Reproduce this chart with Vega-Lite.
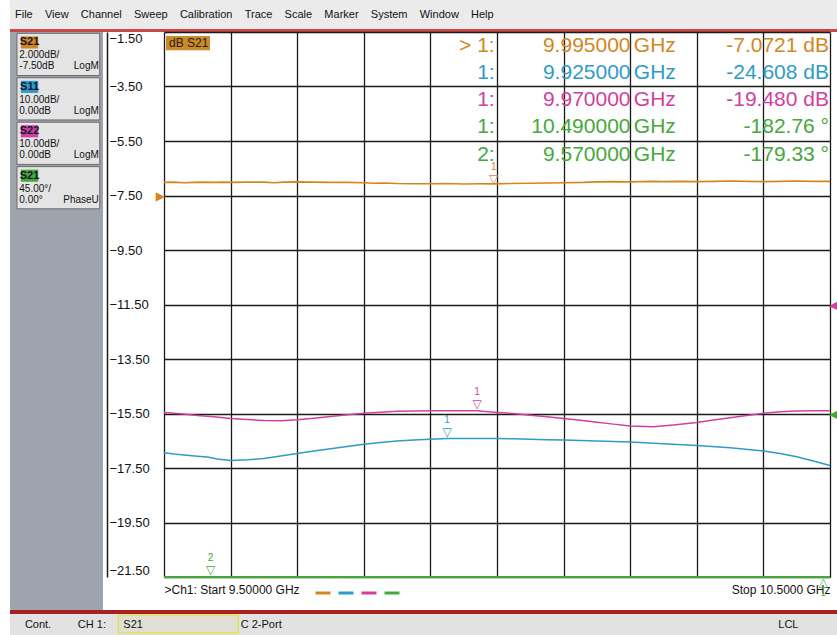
{
  "$schema": "https://vega.github.io/schema/vega-lite/v6.json",
  "background": "white",
  "padding": {"left": 10, "top": 0, "right": 0, "bottom": 0},
  "spacing": 0,
  "config": {
    "view": {"stroke": null},
    "concat": {"spacing": 0},
    "font": "Liberation Sans",
    "axis": {"domain": false, "ticks": false, "gridColor": "#1a1a1a", "gridWidth": 1.3, "gridOpacity": 1, "labelFont": "Liberation Sans", "labelFontSize": 13, "labelColor": "#111111"}
  },
  "datasets": {
    "s21": [
      {"trace": "S21 LogM", "freq": 9.5, "value": -7.02}, {"trace": "S21 LogM", "freq": 9.515, "value": -7.01}, {"trace": "S21 LogM", "freq": 9.53, "value": -7.03}, {"trace": "S21 LogM", "freq": 9.545, "value": -7.02}, {"trace": "S21 LogM", "freq": 9.56, "value": -7.01}, {"trace": "S21 LogM", "freq": 9.575, "value": -7.02}, {"trace": "S21 LogM", "freq": 9.59, "value": -7.01}, {"trace": "S21 LogM", "freq": 9.6, "value": -7.02}, {"trace": "S21 LogM", "freq": 9.625, "value": -7.01}, {"trace": "S21 LogM", "freq": 9.65, "value": -7.01}, {"trace": "S21 LogM", "freq": 9.665, "value": -7.03}, {"trace": "S21 LogM", "freq": 9.68, "value": -7.01}, {"trace": "S21 LogM", "freq": 9.7, "value": -7.0}, {"trace": "S21 LogM", "freq": 9.725, "value": -7.01}, {"trace": "S21 LogM", "freq": 9.75, "value": -7.02}, {"trace": "S21 LogM", "freq": 9.775, "value": -7.02}, {"trace": "S21 LogM", "freq": 9.8, "value": -7.03}, {"trace": "S21 LogM", "freq": 9.815, "value": -7.05}, {"trace": "S21 LogM", "freq": 9.83, "value": -7.04}, {"trace": "S21 LogM", "freq": 9.85, "value": -7.06}, {"trace": "S21 LogM", "freq": 9.875, "value": -7.07}, {"trace": "S21 LogM", "freq": 9.9, "value": -7.07}, {"trace": "S21 LogM", "freq": 9.925, "value": -7.06}, {"trace": "S21 LogM", "freq": 9.95, "value": -7.08}, {"trace": "S21 LogM", "freq": 9.975, "value": -7.07}, {"trace": "S21 LogM", "freq": 9.995, "value": -7.072}, {"trace": "S21 LogM", "freq": 10.02, "value": -7.06}, {"trace": "S21 LogM", "freq": 10.05, "value": -7.05}, {"trace": "S21 LogM", "freq": 10.075, "value": -7.04}, {"trace": "S21 LogM", "freq": 10.1, "value": -7.03}, {"trace": "S21 LogM", "freq": 10.13, "value": -7.02}, {"trace": "S21 LogM", "freq": 10.15, "value": -7.0}, {"trace": "S21 LogM", "freq": 10.175, "value": -6.99}, {"trace": "S21 LogM", "freq": 10.2, "value": -7.0}, {"trace": "S21 LogM", "freq": 10.23, "value": -6.98}, {"trace": "S21 LogM", "freq": 10.25, "value": -6.99}, {"trace": "S21 LogM", "freq": 10.275, "value": -6.98}, {"trace": "S21 LogM", "freq": 10.3, "value": -6.99}, {"trace": "S21 LogM", "freq": 10.325, "value": -6.98}, {"trace": "S21 LogM", "freq": 10.35, "value": -6.97}, {"trace": "S21 LogM", "freq": 10.375, "value": -6.98}, {"trace": "S21 LogM", "freq": 10.4, "value": -6.99}, {"trace": "S21 LogM", "freq": 10.425, "value": -6.98}, {"trace": "S21 LogM", "freq": 10.45, "value": -6.97}, {"trace": "S21 LogM", "freq": 10.475, "value": -6.98}, {"trace": "S21 LogM", "freq": 10.5, "value": -6.98}
    ],
    "s11": [
      {"trace": "S11", "freq": 9.5, "value": -27.2}, {"trace": "S11", "freq": 9.515, "value": -27.45}, {"trace": "S11", "freq": 9.53, "value": -27.6}, {"trace": "S11", "freq": 9.55, "value": -27.85}, {"trace": "S11", "freq": 9.565, "value": -28.0}, {"trace": "S11", "freq": 9.58, "value": -28.35}, {"trace": "S11", "freq": 9.6, "value": -28.63}, {"trace": "S11", "freq": 9.625, "value": -28.5}, {"trace": "S11", "freq": 9.65, "value": -28.26}, {"trace": "S11", "freq": 9.675, "value": -27.8}, {"trace": "S11", "freq": 9.7, "value": -27.33}, {"trace": "S11", "freq": 9.725, "value": -26.9}, {"trace": "S11", "freq": 9.75, "value": -26.47}, {"trace": "S11", "freq": 9.775, "value": -26.05}, {"trace": "S11", "freq": 9.8, "value": -25.66}, {"trace": "S11", "freq": 9.825, "value": -25.3}, {"trace": "S11", "freq": 9.85, "value": -25.05}, {"trace": "S11", "freq": 9.875, "value": -24.85}, {"trace": "S11", "freq": 9.9, "value": -24.74}, {"trace": "S11", "freq": 9.925, "value": -24.608}, {"trace": "S11", "freq": 9.95, "value": -24.6}, {"trace": "S11", "freq": 9.975, "value": -24.6}, {"trace": "S11", "freq": 10.0, "value": -24.6}, {"trace": "S11", "freq": 10.025, "value": -24.65}, {"trace": "S11", "freq": 10.05, "value": -24.74}, {"trace": "S11", "freq": 10.075, "value": -24.8}, {"trace": "S11", "freq": 10.1, "value": -24.86}, {"trace": "S11", "freq": 10.125, "value": -24.95}, {"trace": "S11", "freq": 10.15, "value": -25.05}, {"trace": "S11", "freq": 10.175, "value": -25.15}, {"trace": "S11", "freq": 10.2, "value": -25.23}, {"trace": "S11", "freq": 10.25, "value": -25.54}, {"trace": "S11", "freq": 10.3, "value": -25.85}, {"trace": "S11", "freq": 10.35, "value": -26.28}, {"trace": "S11", "freq": 10.4, "value": -26.9}, {"trace": "S11", "freq": 10.425, "value": -27.35}, {"trace": "S11", "freq": 10.45, "value": -27.95}, {"trace": "S11", "freq": 10.475, "value": -28.7}, {"trace": "S11", "freq": 10.5, "value": -29.55}
    ],
    "s22": [
      {"trace": "S22", "freq": 9.5, "value": -19.8}, {"trace": "S22", "freq": 9.525, "value": -20.05}, {"trace": "S22", "freq": 9.55, "value": -20.35}, {"trace": "S22", "freq": 9.575, "value": -20.6}, {"trace": "S22", "freq": 9.6, "value": -20.9}, {"trace": "S22", "freq": 9.625, "value": -21.1}, {"trace": "S22", "freq": 9.65, "value": -21.3}, {"trace": "S22", "freq": 9.675, "value": -21.35}, {"trace": "S22", "freq": 9.7, "value": -21.15}, {"trace": "S22", "freq": 9.725, "value": -20.85}, {"trace": "S22", "freq": 9.75, "value": -20.55}, {"trace": "S22", "freq": 9.775, "value": -20.25}, {"trace": "S22", "freq": 9.8, "value": -19.95}, {"trace": "S22", "freq": 9.825, "value": -19.75}, {"trace": "S22", "freq": 9.85, "value": -19.6}, {"trace": "S22", "freq": 9.875, "value": -19.55}, {"trace": "S22", "freq": 9.9, "value": -19.5}, {"trace": "S22", "freq": 9.94, "value": -19.48}, {"trace": "S22", "freq": 9.97, "value": -19.48}, {"trace": "S22", "freq": 10.0, "value": -19.8}, {"trace": "S22", "freq": 10.025, "value": -20.0}, {"trace": "S22", "freq": 10.05, "value": -20.3}, {"trace": "S22", "freq": 10.075, "value": -20.6}, {"trace": "S22", "freq": 10.1, "value": -20.9}, {"trace": "S22", "freq": 10.125, "value": -21.25}, {"trace": "S22", "freq": 10.15, "value": -21.6}, {"trace": "S22", "freq": 10.175, "value": -21.95}, {"trace": "S22", "freq": 10.2, "value": -22.3}, {"trace": "S22", "freq": 10.235, "value": -22.45}, {"trace": "S22", "freq": 10.265, "value": -22.1}, {"trace": "S22", "freq": 10.3, "value": -21.65}, {"trace": "S22", "freq": 10.325, "value": -21.2}, {"trace": "S22", "freq": 10.35, "value": -20.8}, {"trace": "S22", "freq": 10.375, "value": -20.35}, {"trace": "S22", "freq": 10.4, "value": -19.95}, {"trace": "S22", "freq": 10.425, "value": -19.7}, {"trace": "S22", "freq": 10.45, "value": -19.55}, {"trace": "S22", "freq": 10.475, "value": -19.5}, {"trace": "S22", "freq": 10.5, "value": -19.5}
    ],
    "phase": [
      {"trace": "S21 Phase", "freq": 9.5, "value": -178.6}, {"trace": "S21 Phase", "freq": 9.55, "value": -179.1}, {"trace": "S21 Phase", "freq": 9.57, "value": -179.33}, {"trace": "S21 Phase", "freq": 9.6, "value": -179.6}, {"trace": "S21 Phase", "freq": 9.7, "value": -180.2}, {"trace": "S21 Phase", "freq": 9.8, "value": -180.7}, {"trace": "S21 Phase", "freq": 9.9, "value": -181.1}, {"trace": "S21 Phase", "freq": 10.0, "value": -181.5}, {"trace": "S21 Phase", "freq": 10.1, "value": -181.8}, {"trace": "S21 Phase", "freq": 10.2, "value": -182.0}, {"trace": "S21 Phase", "freq": 10.3, "value": -182.3}, {"trace": "S21 Phase", "freq": 10.4, "value": -182.5}, {"trace": "S21 Phase", "freq": 10.49, "value": -182.76}, {"trace": "S21 Phase", "freq": 10.5, "value": -182.8}
    ],
    "markers": [
      {"trace": "S21 LogM", "marker": "1", "freq": 9.995, "value": -7.0721},
      {"trace": "S11", "marker": "1", "freq": 9.925, "value": -24.608},
      {"trace": "S22", "marker": "1", "freq": 9.97, "value": -19.48},
      {"trace": "S21 Phase", "marker": "1", "freq": 10.49, "value": -182.76},
      {"trace": "S21 Phase", "marker": "2", "freq": 9.57, "value": -179.33}
    ],
    "refs": [
      {"trace": "S21 LogM", "freq": 9.5, "value": -7.5},
      {"trace": "S22", "freq": 10.5, "value": 0},
      {"trace": "S21 Phase", "freq": 10.5, "value": 0}
    ],
    "readout": [
      {"row": "r1", "trace": "S21 LogM", "label": "> 1:", "freq": 9.995, "reading": "-7.0721 dB"},
      {"row": "r2", "trace": "S11", "label": "1:", "freq": 9.925, "reading": "-24.608 dB"},
      {"row": "r3", "trace": "S22", "label": "1:", "freq": 9.97, "reading": "-19.480 dB"},
      {"row": "r4", "trace": "S21 Phase", "label": "1:", "freq": 10.49, "reading": "-182.76 °"},
      {"row": "r5", "trace": "S21 Phase", "label": "2:", "freq": 9.57, "reading": "-179.33 °"}
    ],
    "panel": [
      {"slot": "b1", "trace": "S21 LogM", "name": "S21", "perdiv": "2.000dB/", "refval": "-7.50dB", "format": "LogM"},
      {"slot": "b2", "trace": "S11", "name": "S11", "perdiv": "10.00dB/", "refval": "0.00dB", "format": "LogM"},
      {"slot": "b3", "trace": "S22", "name": "S22", "perdiv": "10.00dB/", "refval": "0.00dB", "format": "LogM"},
      {"slot": "b4", "trace": "S21 Phase", "name": "S21", "perdiv": "45.00°/", "refval": "0.00°", "format": "PhaseU"}
    ]
  },
  "vconcat": [
    {
      "width": 827, "height": 29,
      "view": {"fill": "#ebebeb", "stroke": null},
      "data": {"values": [{"menu": "File\u00a0\u00a0\u00a0\u00a0View\u00a0\u00a0\u00a0\u00a0Channel\u00a0\u00a0\u00a0\u00a0Sweep\u00a0\u00a0\u00a0\u00a0Calibration\u00a0\u00a0\u00a0\u00a0Trace\u00a0\u00a0\u00a0\u00a0Scale\u00a0\u00a0\u00a0\u00a0Marker\u00a0\u00a0\u00a0\u00a0System\u00a0\u00a0\u00a0\u00a0Window\u00a0\u00a0\u00a0\u00a0Help"}]},
      "mark": {"type": "text", "align": "left", "baseline": "middle", "fontSize": 11, "dx": 5, "color": "#111111"},
      "encoding": {"text": {"field": "menu"}, "x": {"datum": 0, "scale": {"domain": [0, 1]}, "axis": null}}
    },
    {
      "width": 827, "height": 3,
      "data": {"values": [{"band": "top"}]},
      "mark": {"type": "rect", "fill": "#c94848"},
      "encoding": {"x": {"datum": 0, "scale": {"domain": [0, 1]}, "axis": null}, "x2": {"datum": 1}, "y": {"datum": 0, "scale": {"domain": [0, 1]}, "axis": null}, "y2": {"datum": 1}}
    },
    {
      "spacing": 4,
      "resolve": {"scale": {"color": "independent"}, "legend": {"color": "independent"}},
      "hconcat": [
        {
          "width": 93, "height": 578,
          "view": {"fill": "#9ea3ae", "stroke": null},
          "data": {"name": "panel"},
          "encoding": {
            "y": {"field": "slot", "type": "nominal", "scale": {"type": "band", "domain": ["b1", "b2", "b3", "b4", "b5", "b6", "b7", "b8", "b9", "b10", "b11", "b12", "b13"], "paddingInner": 0.05, "paddingOuter": 0.03}, "axis": null},
            "x": {"datum": 0.5, "scale": {"domain": [0, 1]}, "axis": null}
          },
          "layer": [
            {"mark": {"type": "rect", "fill": "#e4e4e4", "stroke": "#6a6a6a", "strokeWidth": 1}, "encoding": {"x": {"datum": 0.075}, "x2": {"datum": 0.965}}},
            {"mark": {"type": "point", "shape": "M-1,-0.7H1V0.7H-1Z", "size": 300, "filled": true, "opacity": 1, "yOffset": -12}, "encoding": {"x": {"datum": 0.21}, "color": {"field": "trace", "type": "nominal", "scale": {"domain": ["S21 LogM", "S11", "S22", "S21 Phase"], "range": ["#d4861e", "#2e9cc6", "#d0409e", "#45a83a"]}, "legend": null}}},
            {"mark": {"type": "text", "align": "center", "baseline": "middle", "dy": -12, "fontSize": 11, "fontWeight": "bold", "color": "#141430"}, "encoding": {"x": {"datum": 0.21}, "text": {"field": "name"}}},
            {"mark": {"type": "text", "align": "left", "baseline": "middle", "dy": 1, "fontSize": 10, "color": "#111111"}, "encoding": {"x": {"datum": 0.1}, "text": {"field": "perdiv"}}},
            {"mark": {"type": "text", "align": "left", "baseline": "middle", "dy": 12, "fontSize": 10, "color": "#111111"}, "encoding": {"x": {"datum": 0.1}, "text": {"field": "refval"}}},
            {"mark": {"type": "text", "align": "right", "baseline": "middle", "dy": 12, "fontSize": 10, "color": "#111111"}, "encoding": {"x": {"datum": 0.955}, "text": {"field": "format"}}}
          ]
        },
        {
          "width": 666, "height": 545,
          "view": {"fill": "white", "stroke": null},
          "encoding": {
            "x": {"field": "freq", "type": "quantitative", "scale": {"domain": [9.5, 10.5], "nice": false, "zero": false},
              "axis": {"values": [9.5, 9.6, 9.7, 9.8, 9.9, 10.0, 10.1, 10.2, 10.3, 10.4, 10.5], "grid": true, "tickSize": 0, "labelPadding": 7, "labelFontSize": 12, "labelFlush": true, "labelOverlap": false,
                "labelExpr": "datum.value < 9.55 ? '>Ch1: Start 9.50000 GHz' : (datum.value > 10.45 ? 'Stop 10.5000 GHz' : '')", "title": null}},
            "color": {"field": "trace", "type": "nominal", "scale": {"domain": ["S21 LogM", "S11", "S22", "S21 Phase"], "range": ["#d4861e", "#2e9cc6", "#d0409e", "#45a83a"]},
              "legend": {"orient": "none", "legendX": 150, "legendY": 552, "direction": "horizontal", "title": null, "symbolType": "stroke", "symbolSize": 225, "symbolStrokeWidth": 3, "labelExpr": "''", "labelFontSize": 1, "labelOffset": 0, "labelLimit": 1, "columnPadding": -10, "padding": 0}}
          },
          "layer": [
            {
              "encoding": {
                "y": {"field": "value", "type": "quantitative", "scale": {"domain": [-21.5, -1.5], "nice": false, "zero": false},
                  "axis": {"values": [-21.5, -19.5, -17.5, -15.5, -13.5, -11.5, -9.5, -7.5, -5.5, -3.5, -1.5], "format": ".2f", "grid": true, "tickSize": 0, "domain": true, "domainColor": "#1a1a1a", "domainWidth": 1.5, "offset": 57, "labelAlign": "left", "labelPadding": -2, "labelFlush": true, "labelOverlap": false, "title": null}}
              },
              "layer": [
                {"data": {"name": "s21"}, "mark": {"type": "line", "strokeWidth": 1.6}},
                {"data": {"name": "markers"}, "transform": [{"filter": "datum.trace == 'S21 LogM'"}], "mark": {"type": "text", "text": "▽", "font": "DejaVu Sans", "fontSize": 12, "baseline": "middle", "dy": -5}},
                {"data": {"name": "markers"}, "transform": [{"filter": "datum.trace == 'S21 LogM'"}], "mark": {"type": "text", "fontSize": 10, "baseline": "middle", "dy": -17},
                  "encoding": {"text": {"field": "marker"}}},
                {"data": {"name": "refs"}, "transform": [{"filter": "datum.trace == 'S21 LogM'"}], "mark": {"type": "text", "text": "▶", "font": "DejaVu Sans", "fontSize": 12, "align": "right", "baseline": "middle", "dx": 1}}
              ]
            },
            {
              "encoding": {"y": {"field": "value", "type": "quantitative", "scale": {"domain": [-50, 50], "nice": false, "zero": false}, "axis": null}},
              "layer": [
                {"data": {"name": "s11"}, "mark": {"type": "line", "strokeWidth": 1.5}},
                {"data": {"name": "markers"}, "transform": [{"filter": "datum.trace == 'S11'"}], "mark": {"type": "text", "text": "▽", "font": "DejaVu Sans", "fontSize": 12, "baseline": "middle", "dy": -7}},
                {"data": {"name": "markers"}, "transform": [{"filter": "datum.trace == 'S11'"}], "mark": {"type": "text", "fontSize": 10, "baseline": "middle", "dy": -19},
                  "encoding": {"text": {"field": "marker"}}}
              ]
            },
            {
              "encoding": {"y": {"field": "value", "type": "quantitative", "scale": {"domain": [-50, 50], "nice": false, "zero": false}, "axis": null}},
              "layer": [
                {"data": {"name": "s22"}, "mark": {"type": "line", "strokeWidth": 1.5}},
                {"data": {"name": "markers"}, "transform": [{"filter": "datum.trace == 'S22'"}], "mark": {"type": "text", "text": "▽", "font": "DejaVu Sans", "fontSize": 12, "baseline": "middle", "dy": -7}},
                {"data": {"name": "markers"}, "transform": [{"filter": "datum.trace == 'S22'"}], "mark": {"type": "text", "fontSize": 10, "baseline": "middle", "dy": -19},
                  "encoding": {"text": {"field": "marker"}}},
                {"data": {"name": "refs"}, "transform": [{"filter": "datum.trace == 'S22'"}], "mark": {"type": "text", "text": "◀", "font": "DejaVu Sans", "fontSize": 12, "align": "left", "baseline": "middle", "dx": -1}}
              ]
            },
            {
              "encoding": {"y": {"field": "value", "type": "quantitative", "scale": {"domain": [-135, 315], "nice": false, "zero": false, "clamp": true}, "axis": null}},
              "layer": [
                {"data": {"name": "phase"}, "mark": {"type": "line", "strokeWidth": 2}},
                {"data": {"name": "markers"}, "transform": [{"filter": "datum.trace == 'S21 Phase' && datum.freq < 10"}], "mark": {"type": "text", "text": "▽", "font": "DejaVu Sans", "fontSize": 12, "baseline": "middle", "dy": -7}},
                {"data": {"name": "markers"}, "transform": [{"filter": "datum.trace == 'S21 Phase' && datum.freq < 10"}], "mark": {"type": "text", "fontSize": 10, "baseline": "middle", "dy": -19},
                  "encoding": {"text": {"field": "marker"}}},
                {"data": {"name": "markers"}, "transform": [{"filter": "datum.trace == 'S21 Phase' && datum.freq > 10"}], "mark": {"type": "text", "text": "△", "font": "DejaVu Sans", "fontSize": 12, "baseline": "middle", "dy": 5}},
                {"data": {"name": "markers"}, "transform": [{"filter": "datum.trace == 'S21 Phase' && datum.freq > 10"}], "mark": {"type": "text", "fontSize": 9, "baseline": "middle", "dy": 16},
                  "encoding": {"text": {"field": "marker"}}},
                {"data": {"name": "refs"}, "transform": [{"filter": "datum.trace == 'S21 Phase'"}], "mark": {"type": "text", "text": "◀", "font": "DejaVu Sans", "fontSize": 12, "align": "left", "baseline": "middle", "dx": -1}}
              ]
            },
            {
              "data": {"name": "readout"},
              "encoding": {
                "y": {"field": "row", "type": "ordinal", "scale": {"type": "point", "domain": ["r1", "r2", "r3", "r4", "r5", "r6", "r7", "r8", "r9", "r10", "r11", "r12", "r13", "r14", "r15", "r16", "r17", "r18", "r19", "r20"], "padding": 0.5}, "axis": null}
              },
              "layer": [
                {"transform": [{"filter": "datum.row == 'r1'"}], "mark": {"type": "point", "shape": "M-1,-0.32H1V0.32H-1Z", "size": 1936, "filled": true, "opacity": 1, "yOffset": -2.5},
                  "encoding": {"x": {"datum": 9.536}, "color": {"value": "#c98b2b"}}},
                {"transform": [{"filter": "datum.row == 'r1'"}], "mark": {"type": "text", "text": "dB S21", "align": "left", "baseline": "middle", "fontSize": 12, "dx": 3, "yOffset": -2.5, "fill": "#2e1c05"},
                  "encoding": {"x": {"datum": 9.503}, "color": {"value": "#2e1c05"}}},
                {"mark": {"type": "text", "align": "right", "baseline": "middle", "fontSize": 21}, "encoding": {"x": {"datum": 9.9965}, "text": {"field": "label"}}},
                {"mark": {"type": "text", "align": "right", "baseline": "middle", "fontSize": 21}, "encoding": {"x": {"datum": 10.2005}, "text": {"field": "freq", "type": "quantitative", "format": ".6f"}}},
                {"mark": {"type": "text", "text": "GHz", "align": "left", "baseline": "middle", "fontSize": 21}, "encoding": {"x": {"datum": 10.2055}}},
                {"mark": {"type": "text", "align": "right", "baseline": "middle", "fontSize": 21}, "encoding": {"x": {"datum": 10.4985}, "text": {"field": "reading"}}}
              ]
            }
          ],
          "resolve": {"scale": {"y": "independent"}, "axis": {"y": "independent"}}
        }
      ]
    },
    {
      "width": 827, "height": 4,
      "data": {"values": [{"band": "bottom"}]},
      "mark": {"type": "rect", "fill": "#a82020"},
      "encoding": {"x": {"datum": 0, "scale": {"domain": [0, 1]}, "axis": null}, "x2": {"datum": 1}, "y": {"datum": 0, "scale": {"domain": [0, 1]}, "axis": null}, "y2": {"datum": 1}}
    },
    {
      "width": 827, "height": 21,
      "view": {"fill": "#e2e2e2", "stroke": null},
      "encoding": {"x": {"datum": 0, "scale": {"domain": [0, 1]}, "axis": null}},
      "layer": [
        {"data": {"values": [{"box": "S21"}]}, "mark": {"type": "rect", "fill": "#e0dfd6", "stroke": "#e6df5a", "strokeWidth": 1.5},
          "encoding": {"x": {"datum": 0.131}, "x2": {"datum": 0.276}, "y": {"datum": 0.1, "scale": {"domain": [0, 1]}, "axis": null}, "y2": {"datum": 0.95}}},
        {"data": {"values": [{"t": "Cont."}]}, "mark": {"type": "text", "align": "left", "baseline": "middle", "fontSize": 11, "color": "#111111"}, "encoding": {"x": {"datum": 0.018}, "text": {"field": "t"}}},
        {"data": {"values": [{"t": "CH 1:"}]}, "mark": {"type": "text", "align": "left", "baseline": "middle", "fontSize": 11, "color": "#111111"}, "encoding": {"x": {"datum": 0.082}, "text": {"field": "t"}}},
        {"data": {"values": [{"t": "S21"}]}, "mark": {"type": "text", "align": "left", "baseline": "middle", "fontSize": 11, "color": "#111111"}, "encoding": {"x": {"datum": 0.137}, "text": {"field": "t"}}},
        {"data": {"values": [{"t": "C 2-Port"}]}, "mark": {"type": "text", "align": "left", "baseline": "middle", "fontSize": 11, "color": "#111111"}, "encoding": {"x": {"datum": 0.279}, "text": {"field": "t"}}},
        {"data": {"values": [{"t": "LCL"}]}, "mark": {"type": "text", "align": "left", "baseline": "middle", "fontSize": 11, "color": "#111111"}, "encoding": {"x": {"datum": 0.929}, "text": {"field": "t"}}}
      ]
    }
  ]
}
